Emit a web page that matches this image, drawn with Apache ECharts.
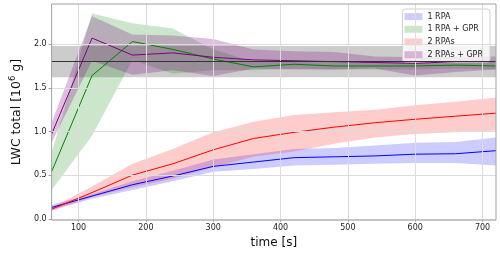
<!DOCTYPE html>
<html>
<head>
<meta charset="utf-8">
<script src="https://cdn.jsdelivr.net/npm/echarts@6/dist/echarts.min.js"></script>
<style>
html,body{margin:0;padding:0;background:#fff;}
#chart{width:500px;height:254px;}
</style>
</head>
<body>
<div id="chart"></div>
<script>
// ---- data ----
const timeValues = [60,120,180,240,300,360,420,480,540,600,660,720];

const rpa1Mean = [0.13,0.26,0.39,0.49,0.60,0.65,0.70,0.71,0.72,0.74,0.745,0.78];
const rpa1Low  = [0.10,0.23,0.33,0.43,0.54,0.57,0.61,0.62,0.63,0.64,0.64,0.61];
const rpa1High = [0.16,0.28,0.43,0.55,0.68,0.74,0.80,0.81,0.84,0.87,0.88,0.93];

const rpa1GprMean = [0.54,1.64,2.03,1.94,1.83,1.74,1.77,1.75,1.75,1.75,1.76,1.75];
const rpa1GprLow  = [0.33,0.95,1.82,1.66,1.70,1.70,1.72,1.71,1.71,1.71,1.72,1.71];
const rpa1GprHigh = [0.76,2.35,2.24,2.18,1.94,1.80,1.81,1.80,1.79,1.79,1.80,1.79];

const rpa2Mean = [0.11,0.30,0.50,0.63,0.79,0.92,0.99,1.05,1.10,1.14,1.175,1.21];
const rpa2Low  = [0.09,0.25,0.36,0.46,0.59,0.71,0.77,0.86,0.93,0.97,0.99,1.01];
const rpa2High = [0.13,0.37,0.63,0.80,0.99,1.11,1.19,1.22,1.25,1.30,1.34,1.39];

const rpa2GprMean = [0.97,2.07,1.875,1.90,1.85,1.82,1.81,1.80,1.79,1.78,1.80,1.80];
const rpa2GprLow  = [0.87,1.81,1.65,1.70,1.635,1.72,1.71,1.71,1.72,1.64,1.68,1.71];
const rpa2GprHigh = [1.10,2.32,2.11,2.10,2.06,1.94,1.92,1.91,1.86,1.85,1.86,1.86];

const referenceValue = 1.80;
const referenceLow = 1.62;
const referenceHigh = 1.98;

const xTicks = [100,200,300,400,500,600,700];
const yTicks = [0.0,0.5,1.0,1.5,2.0];

const seriesNames = ['1 RPA','1 RPA + GPR','2 RPAs','2 RPAs + GPR'];

// ---- styles ----
const lineColors = ['#0000ff','#008000','#ff0000','#800080'];
const fillColors = ['rgba(0,0,255,0.2)','rgba(0,128,0,0.2)','rgba(255,0,0,0.2)','rgba(128,0,128,0.25)'];
const FONT = 'DejaVu Sans';

const groups = [
  [rpa1Mean, rpa1Low, rpa1High],
  [rpa1GprMean, rpa1GprLow, rpa1GprHigh],
  [rpa2Mean, rpa2Low, rpa2High],
  [rpa2GprMean, rpa2GprLow, rpa2GprHigh]
];

function bandSeries(name, low, high, color) {
  const data = timeValues.map((t, i) => [t, low[i], high[i]]);
  return {
    type: 'custom',
    name: name,
    z: 3,
    silent: true,
    itemStyle: { color: color },
    encode: { x: 0, y: [1, 2] },
    data: data,
    renderItem: function (params, api) {
      if (params.dataIndex !== 0) return null;
      const pts = [];
      for (let i = 0; i < data.length; i++) pts.push(api.coord([data[i][0], data[i][2]]));
      for (let i = data.length - 1; i >= 0; i--) pts.push(api.coord([data[i][0], data[i][1]]));
      return {
        type: 'polygon',
        shape: { points: pts },
        style: { fill: color, stroke: null }
      };
    }
  };
}

const series = [];
// background grid lines + reference band
series.push({
  type: 'line',
  name: '_bg',
  data: [],
  z: 1,
  silent: true,
  markLine: {
    silent: true,
    symbol: ['none','none'],
    label: { show: false },
    lineStyle: { color: '#dcdcdc', width: 1, type: 'solid' },
    emphasis: { disabled: true },
    data: xTicks.map(v => ({ xAxis: v })).concat(yTicks.map(v => ({ yAxis: v })))
  }
});
series.push({
  type: 'line',
  name: '_ref',
  data: [],
  z: 2,
  silent: true,
  markArea: {
    silent: true,
    itemStyle: { color: 'rgba(128,128,128,0.4)' },
    emphasis: { disabled: true },
    data: [[{ yAxis: referenceLow }, { yAxis: referenceHigh }]]
  },
  markLine: {
    silent: true,
    symbol: ['none','none'],
    label: { show: false },
    lineStyle: { color: '#333333', width: 1, type: 'solid' },
    emphasis: { disabled: true },
    data: [{ yAxis: referenceValue }]
  }
});

groups.forEach((g, k) => {
  series.push(bandSeries(seriesNames[k], g[1], g[2], fillColors[k]));
});
groups.forEach((g, k) => {
  series.push({
    type: 'line',
    name: seriesNames[k] + ' mean',
    z: 4,
    symbol: 'none',
    silent: true,
    lineStyle: { color: lineColors[k], width: 1 },
    itemStyle: { color: lineColors[k] },
    data: timeValues.map((t, i) => [t, g[0][i]])
  });
});

const chart = echarts.init(document.getElementById('chart'), null, { renderer: 'canvas' });
chart.setOption({
  animation: false,
  backgroundColor: '#fff',
  textStyle: { fontFamily: FONT },
  grid: {
    left: 38, right: 4, top: 4, bottom: 30,
    show: true, borderColor: '#a0a0a0', borderWidth: 1, backgroundColor: 'transparent', z: 10
  },
  legend: {
    orient: 'vertical',
    right: 10, top: 9,
    icon: 'rect',
    itemWidth: 18, itemHeight: 7,
    itemGap: 1.5,
    padding: [2, 7, 2, 2],
    backgroundColor: 'rgba(255,255,255,0.8)',
    borderColor: '#d0d0d0', borderWidth: 1, borderRadius: 3,
    textStyle: { fontFamily: FONT, fontSize: 8, color: '#222', lineHeight: 11.2 },
    selectedMode: false,
    data: seriesNames.map((n, k) => ({ name: n, icon: 'rect', itemStyle: { color: fillColors[k], borderWidth: 0 } }))
  },
  xAxis: {
    type: 'value',
    min: 60, max: 720,
    name: 'time [s]',
    nameLocation: 'middle',
    nameGap: 8,
    nameTextStyle: { fontFamily: FONT, fontSize: 12, color: '#111', verticalAlign: 'top' },
    axisLine: { show: false },
    splitLine: { show: false },
    axisTick: { show: true, inside: false, length: 3, lineStyle: { color: '#a0a0a0' }, customValues: xTicks },
    axisLabel: { fontFamily: FONT, fontSize: 8, color: '#222', margin: 4, customValues: xTicks, formatter: v => String(v) }
  },
  yAxis: {
    type: 'value',
    min: -0.015, max: 2.46,
    name: '{n|LWC total [10}{s|6}{n| g]}',
    nameLocation: 'middle',
    nameRotate: 90,
    nameGap: 26,
    nameTextStyle: {
      fontFamily: FONT, color: '#111',
      rich: {
        n: { fontFamily: FONT, fontSize: 12.5, color: '#111', lineHeight: 17 },
        s: { fontFamily: FONT, fontSize: 8.5, color: '#111', verticalAlign: 'top', lineHeight: 11 }
      }
    },
    axisLine: { show: false },
    splitLine: { show: false },
    axisTick: { show: true, inside: false, length: 3, lineStyle: { color: '#a0a0a0' }, customValues: yTicks },
    axisLabel: { fontFamily: FONT, fontSize: 8, color: '#222', margin: 5, customValues: yTicks, formatter: v => v.toFixed(1) }
  },
  series: series
});
</script>
</body>
</html>
